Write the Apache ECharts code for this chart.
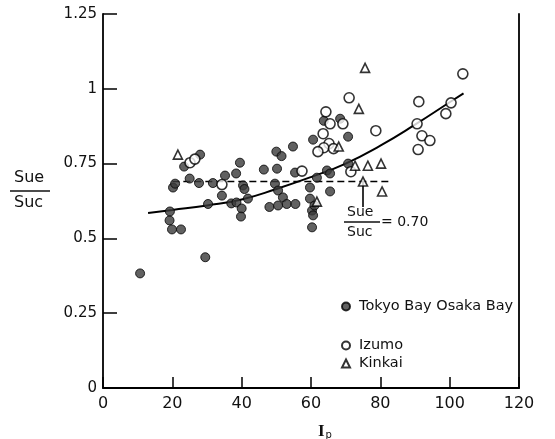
<!DOCTYPE html>
<html>
<head>
<meta charset="utf-8">
<script src="https://cdn.jsdelivr.net/npm/echarts@6/dist/echarts.min.js"></script>
<style>html,body{margin:0;padding:0;background:#fff}#c{width:555px;height:439px}</style>
</head>
<body>
<div id="c"></div>
<script>
// ---- data ----
const xTicks = [0, 20, 40, 60, 80, 100, 120];
const yTicks = [0, 0.25, 0.5, 0.75, 1, 1.25];

const tokyoOsaka = [
  [10.7,0.383],[29.5,0.437],[19.2,0.56],[19.9,0.53],[22.5,0.53],[19.3,0.59],[30.3,0.615],
  [20.2,0.67],[20.8,0.683],[25.0,0.70],[27.7,0.685],[31.7,0.685],[35.2,0.71],[38.4,0.717],
  [39.5,0.753],[28.0,0.78],[23.4,0.74],[34.3,0.643],[37.0,0.617],[38.5,0.62],[40.0,0.60],
  [39.8,0.573],[40.4,0.677],[40.8,0.665],[41.8,0.633],[46.4,0.73],[50.2,0.733],[50.0,0.79],
  [51.5,0.775],[54.8,0.807],[55.4,0.72],[49.6,0.683],[50.5,0.66],[51.9,0.637],[48.0,0.605],
  [50.5,0.61],[53.0,0.615],[55.5,0.615],[59.7,0.67],[61.7,0.703],[59.7,0.633],[60.3,0.593],
  [60.6,0.577],[60.3,0.537],[60.6,0.83],[63.7,0.893],[68.4,0.9],[70.7,0.84],[64.6,0.727],
  [65.5,0.717],[70.7,0.75],[65.5,0.657],[61.0,0.61]
];
const izumo = [
  [25.1,0.753],[26.5,0.765],[34.3,0.68],[57.4,0.725],[64.3,0.923],[65.5,0.883],[69.2,0.883],
  [63.5,0.85],[65.2,0.817],[63.7,0.803],[62.0,0.79],[66.5,0.80],[71.0,0.97],[78.7,0.86],
  [71.5,0.723],[91.1,0.957],[100.4,0.953],[98.9,0.917],[90.6,0.883],[92.0,0.843],[94.3,0.827],
  [90.9,0.797],[103.8,1.05]
];
const kinkai = [
  [21.6,0.78],[61.7,0.623],[68.0,0.807],[72.7,0.743],[73.8,0.933],[75.6,1.07],
  [76.4,0.743],[80.2,0.75],[75.0,0.69],[80.5,0.657]
];
const fitCurve = [
  [13,0.585],[20,0.595],[30,0.61],[40,0.63],[50,0.665],[60,0.705],[70,0.75],
  [80,0.81],[90,0.88],[100,0.955],[104,0.985]
];
const refLine = [[20,0.69],[83,0.69]];
const pointer = [[75,0.69],[75,0.605]];

const FONT = 'DejaVu Sans';
const chart = echarts.init(document.getElementById('c'));
chart.setOption({
  animation: false,
  backgroundColor: '#fff',
  grid: {left: 103, right: 36, top: 14, bottom: 51},
  xAxis: {
    type: 'value', min: 0, max: 120, interval: 20,
    axisLine: {lineStyle: {color: '#000', width: 1.8}},
    axisTick: {inside: true, length: 11, lineStyle: {color: '#000', width: 1.5}},
    axisLabel: {color: '#111', fontFamily: FONT, fontSize: 16, margin: 8,
      formatter: v => xTicks.includes(v) ? String(v) : ''},
    splitLine: {show: false}
  },
  yAxis: [{
    type: 'value', min: 0, max: 1.25, interval: 0.25,
    axisLine: {lineStyle: {color: '#000', width: 1.8}},
    axisTick: {inside: true, length: 14, lineStyle: {color: '#000', width: 1.5}},
    axisLabel: {color: '#111', fontFamily: FONT, fontSize: 15, margin: 6,
      formatter: v => yTicks.includes(v) ? String(v) : ''},
    splitLine: {show: false}
  }, {
    type: 'value', min: 0, max: 1.25, position: 'right',
    axisLine: {show: true, lineStyle: {color: '#000', width: 1.8}},
    axisTick: {show: false}, axisLabel: {show: false}, splitLine: {show: false}
  }],
  legend: [{
    data: ['Tokyo Bay Osaka Bay'], left: 336, top: 294, itemWidth: 8, itemHeight: 8,
    textStyle: {fontFamily: FONT, fontSize: 14.5, color: '#111', padding: [0, 0, 0, 4]}
  }, {
    data: ['Izumo', 'Kinkai'], orient: 'vertical', left: 336, top: 333, itemGap: 3,
    itemWidth: 8, itemHeight: 8,
    textStyle: {fontFamily: FONT, fontSize: 14.5, color: '#111', padding: [0, 0, 0, 4]}
  }],
  series: [
    {name: 'fit', type: 'line', data: fitCurve, smooth: true, symbol: 'none',
     lineStyle: {color: '#000', width: 2}, z: 1},
    {name: 'ref', type: 'line', data: refLine, symbol: 'none',
     lineStyle: {color: '#000', width: 1.5, type: [7, 4]}, z: 1},
    {name: 'pointer', type: 'line', data: pointer, symbol: 'none',
     lineStyle: {color: '#000', width: 1.6}, z: 1},
    {name: 'Tokyo Bay Osaka Bay', type: 'scatter', data: tokyoOsaka, symbol: 'circle', symbolSize: 9,
     itemStyle: {color: '#3a3a3a', borderColor: '#000', borderWidth: 1}, z: 3},
    {name: 'Izumo', type: 'scatter', data: izumo, symbol: 'circle', symbolSize: 10,
     itemStyle: {color: '#fff', borderColor: '#000', borderWidth: 1.6}, z: 4},
    {name: 'Kinkai', type: 'scatter', data: kinkai, symbol: 'triangle', symbolSize: 9,
     itemStyle: {color: '#fff', borderColor: '#000', borderWidth: 1.6}, z: 4}
  ],
  graphic: [
    // y axis title: Sue / Suc
    {type: 'text', left: 14, top: 170, style: {text: 'Sue', font: '16px "' + FONT + '"', fill: '#111'}},
    {type: 'line', shape: {x1: 10, y1: 191, x2: 50, y2: 191}, style: {stroke: '#111', lineWidth: 1.5}},
    {type: 'text', left: 14, top: 195, style: {text: 'Suc', font: '16px "' + FONT + '"', fill: '#111'}},
    // x axis title: I_p
    {type: 'text', left: 318, top: 423, style: {
      rich: {a: {fontFamily: 'Liberation Serif', fontSize: 17, fontWeight: 'bold', fill: '#111'},
             b: {fontFamily: FONT, fontSize: 10, fill: '#111', padding: [8, 0, 0, 1]}},
      text: '{a|I}{b|p}'}},
    // annotation Sue/Suc = 0.70
    {type: 'text', left: 347, top: 205, style: {text: 'Sue', font: '14px "' + FONT + '"', fill: '#111'}},
    {type: 'line', shape: {x1: 344, y1: 222, x2: 380, y2: 222}, style: {stroke: '#111', lineWidth: 1.5}},
    {type: 'text', left: 347, top: 225, style: {text: 'Suc', font: '14px "' + FONT + '"', fill: '#111'}},
    {type: 'text', left: 381, top: 215, style: {text: '= 0.70', font: '14px "' + FONT + '"', fill: '#111'}}
  ]
});
</script>
</body>
</html>
